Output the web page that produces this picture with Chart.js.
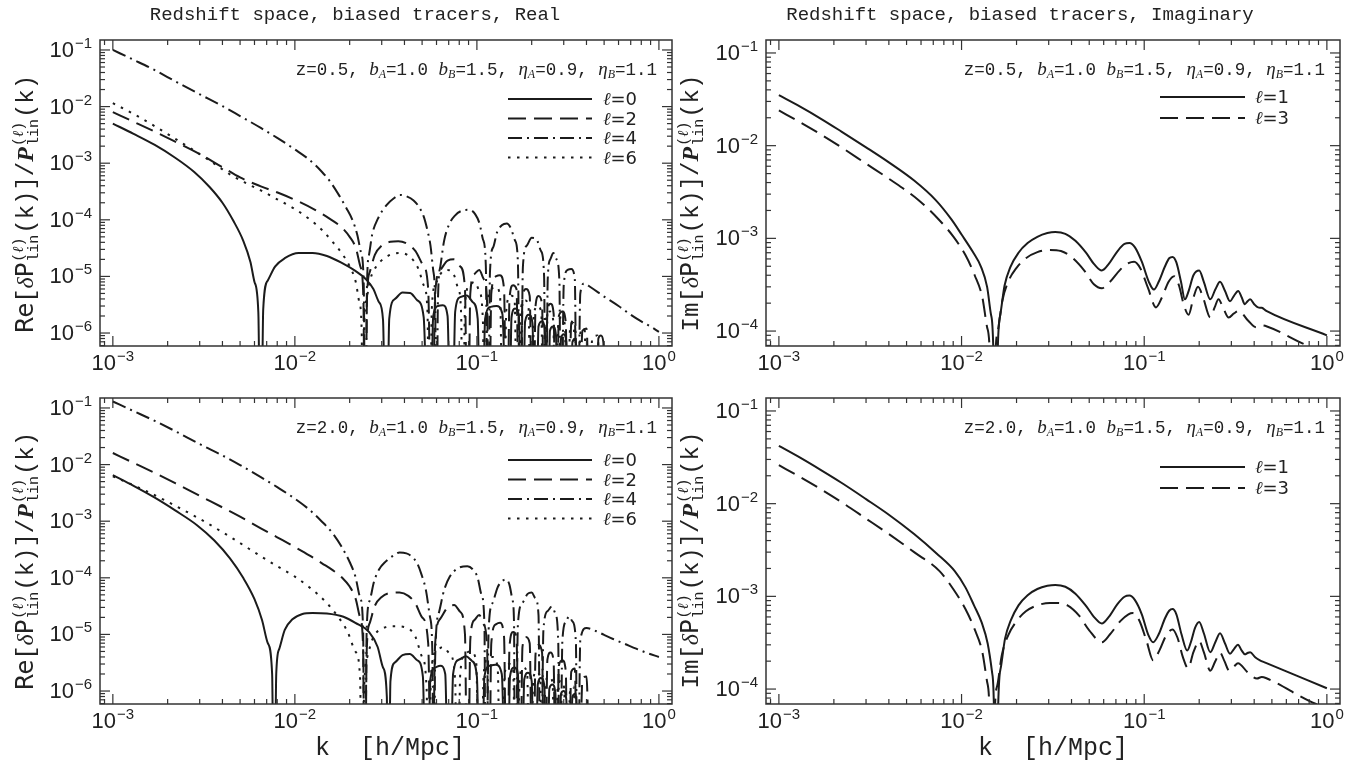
<!DOCTYPE html>
<html><head><meta charset="utf-8">
<script src="https://cdn.jsdelivr.net/npm/chart.js@4.4.1/dist/chart.umd.min.js"></script>
<style>
html,body{margin:0;padding:0;background:#fff}
body{width:1359px;height:764px;position:relative;overflow:hidden;color:#222}
canvas{position:absolute}
.t{position:absolute;white-space:nowrap;font-family:'Liberation Mono','DejaVu Sans Mono',monospace;color:#222}
.title{font-size:19px;transform:translate(-50%,-50%)}
.xl{font-size:25px;transform:translate(-50%,-50%)}
.yl{font-size:24px;transform:translate(-50%,-50%) rotate(-90deg)}
.ann{font-size:17.5px;transform:translate(-100%,-50%)}
.ann i{font-family:'Liberation Serif',serif;font-size:19px}
.ann sub{font-family:'Liberation Serif',serif;font-style:italic;font-size:12px;vertical-align:-3px}
.ss{display:inline-flex;flex-direction:column;vertical-align:middle;font-size:15px;line-height:15px;text-align:left;margin:0 1px}
.sans{font-family:'DejaVu Sans',sans-serif}
.ser{font-family:'Liberation Serif',serif}
.leg{font-family:'DejaVu Sans',sans-serif;font-size:18px;transform:translate(0,-50%)}
.leg i{font-family:'DejaVu Serif',serif}
.tk{font-family:'Liberation Sans','DejaVu Sans',sans-serif;font-size:22px;line-height:22px}
.tk .sp{font-size:15px;position:relative;top:-9px;margin-left:1px}
.tkx{transform:translate(-50%,0)}
.tky{transform:translate(-100%,-50%)}
</style></head><body>
<script>
// ---------- tick labels (decade exponents) ----------
const xTickExp = [-3, -2, -1, 0];
const yTickExpRe = [-6, -5, -4, -3, -2, -1];
const yTickExpIm = [-4, -3, -2, -1];

// ---------- data : [k (h/Mpc), value] ----------
// Real part, z = 0.5
const reZ05L0 = [[0.001,5.0e-3],[0.0013,3.3e-3],[0.0017,2.1e-3],[0.0022,1.25e-3],[0.0028,7.0e-4],[0.0034,3.8e-4],[0.004,2.0e-4],[0.0046,9.5e-5],[0.0052,4.3e-5],[0.0057,1.8e-5],[0.006,8e-6],[0.0063,2.3e-6],[0.0065,1e-9],[0.0067,2.6e-6],[0.0071,8.5e-6],[0.0078,1.5e-5],[0.0088,2.1e-5],[0.0105,2.6e-5],[0.0125,2.6e-5],[0.015,2.3e-5],[0.018,1.75e-5],[0.0215,1.25e-5],[0.0245,9e-6],[0.027,6e-6],[0.029,3.5e-6],[0.0305,1.7e-6],[0.0318,1e-9],[0.033,1.8e-6],[0.0355,4e-6],[0.039,5.2e-6],[0.043,5.1e-6],[0.047,3.8e-6],[0.051,1.9e-6],[0.055,1e-9],[0.0575,1.9e-6],[0.061,3e-6],[0.065,3.1e-6],[0.069,2e-6],[0.0725,1e-9],[0.076,2.4e-6],[0.081,4.3e-6],[0.088,4.6e-6],[0.095,3.5e-6],[0.101,1.8e-6],[0.1057,1e-9],[0.111,1.8e-6],[0.119,2.9e-6],[0.128,3e-6],[0.138,2.2e-6],[0.149,1e-9],[0.155,1.9e-6],[0.162,2.7e-6],[0.17,2.1e-6],[0.177,1e-9],[0.184,1.6e-6],[0.193,2.1e-6],[0.202,1.5e-6],[0.21,1e-9],[0.218,1.3e-6],[0.227,1.6e-6],[0.236,1.2e-6],[0.244,1e-9],[0.252,1.1e-6],[0.262,1.3e-6],[0.272,9e-7],[0.28,1e-9],[0.29,8e-7],[0.3,9.5e-7],[0.31,7e-7],[0.32,1e-9],[0.335,7e-7],[0.35,8e-7],[0.365,1e-9],[0.45,1e-9],[0.465,8e-7],[0.48,9e-7],[0.495,7e-7],[0.51,1e-9]];
const reZ05L2 = [[0.001,8e-3],[0.0013,5.4e-3],[0.0017,3.6e-3],[0.0022,2.4e-3],[0.003,1.45e-3],[0.004,8.5e-4],[0.005,5.6e-4],[0.0065,3.9e-4],[0.0081,3.0e-4],[0.0105,2.1e-4],[0.0129,1.5e-4],[0.0155,1.05e-4],[0.0182,7.2e-5],[0.02,5e-5],[0.0216,3.2e-5],[0.0229,1.5e-5],[0.0238,4e-6],[0.0243,1e-9],[0.0249,4e-6],[0.0258,1.2e-5],[0.0275,2.4e-5],[0.03,3.5e-5],[0.0335,4.1e-5],[0.037,4.2e-5],[0.0412,3.8e-5],[0.046,2.8e-5],[0.0505,1.6e-5],[0.054,6e-6],[0.0567,1e-9],[0.059,5e-6],[0.063,1.3e-5],[0.069,1.9e-5],[0.075,2e-5],[0.081,1.5e-5],[0.086,6e-6],[0.089,1e-9],[0.092,5e-6],[0.097,1.1e-5],[0.103,1.3e-5],[0.109,9e-6],[0.114,3e-6],[0.116,1e-9],[0.12,5e-6],[0.127,1e-5],[0.134,1.05e-5],[0.141,6e-6],[0.146,1e-9],[0.151,4e-6],[0.158,7e-6],[0.165,6e-6],[0.172,1e-9],[0.178,4e-6],[0.186,6e-6],[0.195,4.5e-6],[0.203,1e-9],[0.21,3e-6],[0.218,4.5e-6],[0.228,3.2e-6],[0.236,1e-9],[0.244,2.5e-6],[0.254,3.3e-6],[0.264,2.2e-6],[0.272,1e-9],[0.282,2e-6],[0.295,2.4e-6],[0.308,1.5e-6],[0.316,1e-9],[0.33,1.5e-6],[0.345,1.7e-6],[0.36,1e-9],[0.38,1.1e-6],[0.4,1.2e-6],[0.42,1e-9]];
const reZ05L4 = [[0.001,0.1],[0.0013,0.067],[0.0017,0.044],[0.0022,0.028],[0.003,0.0165],[0.004,0.0102],[0.005,6.8e-3],[0.0065,4.2e-3],[0.008,2.8e-3],[0.01,1.75e-3],[0.012,1.15e-3],[0.0141,7e-4],[0.0158,4.5e-4],[0.0175,2.7e-4],[0.0192,1.6e-4],[0.0207,1e-4],[0.022,5.5e-5],[0.0231,2.6e-5],[0.0239,7e-6],[0.0244,1e-9],[0.0249,7e-6],[0.0256,2.5e-5],[0.0266,5.5e-5],[0.0286,1.05e-4],[0.0318,1.8e-4],[0.035,2.4e-4],[0.0378,2.75e-4],[0.041,2.6e-4],[0.0449,2.2e-4],[0.048,1.7e-4],[0.051,1.15e-4],[0.0535,6.5e-5],[0.0556,3.5e-5],[0.0575,1.3e-5],[0.059,3e-6],[0.06,1e-9],[0.061,3e-6],[0.063,1.5e-5],[0.066,4.2e-5],[0.07,8e-5],[0.076,1.2e-4],[0.083,1.45e-4],[0.091,1.5e-4],[0.098,1.25e-4],[0.1035,8.5e-5],[0.108,4.5e-5],[0.112,1.5e-5],[0.115,1e-9],[0.118,1.2e-5],[0.123,3.3e-5],[0.129,6e-5],[0.137,8e-5],[0.146,8.6e-5],[0.154,7e-5],[0.162,4.3e-5],[0.168,1.8e-5],[0.173,1e-9],[0.179,1.5e-5],[0.188,3.5e-5],[0.2,4.8e-5],[0.212,4.6e-5],[0.225,2.8e-5],[0.234,1e-5],[0.239,1e-9],[0.245,9e-6],[0.253,2e-5],[0.263,2.6e-5],[0.274,2e-5],[0.284,8e-6],[0.29,1e-9],[0.3,7e-6],[0.315,1.3e-5],[0.33,1.35e-5],[0.345,9e-6],[0.356,1e-9],[0.37,5e-6],[0.39,7.5e-6],[0.42,6.5e-6],[0.5,4.4e-6],[0.6,3.0e-6],[0.7,2.1e-6],[0.8,1.6e-6],[0.9,1.3e-6],[1.0,1.05e-6]];
const reZ05L6 = [[0.001,1.15e-2],[0.0013,7.4e-3],[0.0017,4.5e-3],[0.0022,2.7e-3],[0.003,1.45e-3],[0.004,7.8e-4],[0.0046,5.8e-4],[0.0055,4.3e-4],[0.0065,3.3e-4],[0.008,2.3e-4],[0.01,1.55e-4],[0.012,1.03e-4],[0.0141,6.6e-5],[0.0162,4e-5],[0.0182,2.5e-5],[0.02,1.5e-5],[0.0216,8e-6],[0.0226,3.5e-6],[0.0233,1e-6],[0.0236,1e-9],[0.024,1e-6],[0.0248,4e-6],[0.026,9e-6],[0.028,1.5e-5],[0.031,2.1e-5],[0.0345,2.5e-5],[0.0378,2.6e-5],[0.0415,2.4e-5],[0.0449,1.9e-5],[0.048,1.3e-5],[0.051,7e-6],[0.0535,2.5e-6],[0.055,1e-9],[0.0565,2.5e-6],[0.059,7e-6],[0.063,1.1e-5],[0.068,1.3e-5],[0.074,1.15e-5],[0.079,6e-6],[0.082,2e-6],[0.0835,1e-9],[0.086,3e-6],[0.091,7e-6],[0.097,8e-6],[0.103,5.5e-6],[0.108,1.5e-6],[0.11,1e-9],[0.114,3e-6],[0.12,6e-6],[0.127,6.5e-6],[0.134,4.5e-6],[0.14,1e-9],[0.145,2.5e-6],[0.153,4.6e-6],[0.161,4e-6],[0.168,1e-9],[0.174,2.5e-6],[0.183,3.8e-6],[0.192,3e-6],[0.199,1e-9],[0.206,2.2e-6],[0.216,3e-6],[0.226,2.2e-6],[0.233,1e-9],[0.24,1.8e-6],[0.252,2.4e-6],[0.263,1.6e-6],[0.27,1e-9],[0.28,1.5e-6],[0.293,1.9e-6],[0.305,1.3e-6],[0.312,1e-9],[0.325,1.2e-6],[0.34,1.5e-6],[0.355,1e-9],[0.37,1e-6],[0.39,1.2e-6],[0.41,1e-9],[0.43,8e-7],[0.46,9e-7],[0.49,1e-9]];

// Real part, z = 2.0
const reZ2L0 = [[0.001,6.5e-3],[0.0013,4.2e-3],[0.0017,2.6e-3],[0.0022,1.55e-3],[0.0029,8.5e-4],[0.0036,4.6e-4],[0.0044,2.2e-4],[0.0052,1e-4],[0.006,4.2e-5],[0.0066,1.8e-5],[0.0071,7e-6],[0.0075,2e-6],[0.0077,1e-9],[0.0079,2e-6],[0.0082,5.5e-6],[0.0088,1.2e-5],[0.0097,1.85e-5],[0.011,2.3e-5],[0.0125,2.4e-5],[0.015,2.35e-5],[0.0185,2.05e-5],[0.0215,1.6e-5],[0.0256,1.1e-5],[0.0285,6e-6],[0.0305,2.6e-6],[0.032,8e-7],[0.0326,1e-9],[0.0335,1.5e-6],[0.0355,3.2e-6],[0.039,4.3e-6],[0.0428,4.5e-6],[0.047,3.5e-6],[0.0505,1.8e-6],[0.053,1e-9],[0.0555,1.6e-6],[0.059,2.6e-6],[0.063,2.8e-6],[0.067,2e-6],[0.0705,1e-9],[0.074,2e-6],[0.08,3.6e-6],[0.087,4.1e-6],[0.094,3.4e-6],[0.1,1.8e-6],[0.105,1e-9],[0.11,1.8e-6],[0.118,2.8e-6],[0.127,2.9e-6],[0.137,2e-6],[0.146,1e-9],[0.152,1.8e-6],[0.16,2.6e-6],[0.168,2e-6],[0.175,1e-9],[0.182,1.6e-6],[0.191,2.1e-6],[0.2,1.5e-6],[0.208,1e-9],[0.216,1.3e-6],[0.225,1.7e-6],[0.235,1.2e-6],[0.242,1e-9],[0.25,1.1e-6],[0.26,1.3e-6],[0.27,9e-7],[0.278,1e-9],[0.29,9e-7],[0.3,1e-6],[0.31,7e-7],[0.32,1e-9],[0.335,8e-7],[0.35,9e-7],[0.365,1e-9]];
const reZ2L2 = [[0.001,1.6e-2],[0.0013,1.07e-2],[0.0017,7.1e-3],[0.0022,4.7e-3],[0.003,2.8e-3],[0.004,1.75e-3],[0.005,1.2e-3],[0.0065,7.5e-4],[0.008,5.2e-4],[0.01,3.5e-4],[0.012,2.5e-4],[0.0141,1.8e-4],[0.0162,1.35e-4],[0.0182,1e-4],[0.02,7e-5],[0.0216,4.2e-5],[0.0228,2e-5],[0.0237,6e-6],[0.0242,1e-9],[0.0248,5e-6],[0.0258,1.6e-5],[0.0275,3.2e-5],[0.03,4.6e-5],[0.0335,5.4e-5],[0.0376,5.5e-5],[0.042,4.8e-5],[0.046,3.5e-5],[0.05,2e-5],[0.054,7e-6],[0.0565,1e-9],[0.059,7e-6],[0.063,1.9e-5],[0.069,3e-5],[0.075,3.3e-5],[0.081,2.5e-5],[0.086,1e-5],[0.089,1e-9],[0.092,8e-6],[0.097,1.8e-5],[0.103,2.2e-5],[0.109,1.5e-5],[0.114,5e-6],[0.116,1e-9],[0.12,7e-6],[0.127,1.5e-5],[0.134,1.6e-5],[0.141,9e-6],[0.146,1e-9],[0.151,6e-6],[0.158,1.1e-5],[0.165,9e-6],[0.172,1e-9],[0.178,6e-6],[0.186,9e-6],[0.195,7e-6],[0.203,1e-9],[0.21,4.5e-6],[0.218,6.5e-6],[0.228,4.8e-6],[0.236,1e-9],[0.244,3.6e-6],[0.254,4.8e-6],[0.264,3.3e-6],[0.272,1e-9],[0.282,2.8e-6],[0.295,3.5e-6],[0.308,2.2e-6],[0.316,1e-9],[0.33,2.2e-6],[0.345,2.5e-6],[0.36,1e-9],[0.38,1.6e-6],[0.4,1.8e-6],[0.42,1e-9]];
const reZ2L4 = [[0.001,0.13],[0.0013,0.088],[0.0017,0.059],[0.0022,0.039],[0.003,0.023],[0.004,0.0145],[0.005,9.8e-3],[0.0065,6.0e-3],[0.008,4e-3],[0.01,2.5e-3],[0.012,1.6e-3],[0.014,1e-3],[0.016,6.3e-4],[0.018,3.6e-4],[0.02,1.9e-4],[0.0215,1.05e-4],[0.0228,4.5e-5],[0.0237,1.3e-5],[0.0242,1e-9],[0.0248,1.2e-5],[0.0258,4e-5],[0.0272,8.5e-5],[0.029,1.4e-4],[0.0316,1.95e-4],[0.035,2.5e-4],[0.0376,2.8e-4],[0.041,2.7e-4],[0.0437,2.4e-4],[0.047,1.8e-4],[0.0496,1.15e-4],[0.0525,6e-5],[0.0553,2e-5],[0.057,4e-6],[0.0578,1e-9],[0.059,4e-6],[0.062,2.5e-5],[0.066,6e-5],[0.071,1.05e-4],[0.078,1.45e-4],[0.0887,1.6e-4],[0.096,1.35e-4],[0.101,1e-4],[0.106,5e-5],[0.11,1.5e-5],[0.112,1e-9],[0.116,1.2e-5],[0.122,3.6e-5],[0.13,6.8e-5],[0.138,8.8e-5],[0.145,9.3e-5],[0.151,7.5e-5],[0.157,4e-5],[0.16,1.5e-5],[0.162,1e-9],[0.168,1.5e-5],[0.178,3.6e-5],[0.19,5.2e-5],[0.2,5.5e-5],[0.209,4.4e-5],[0.218,2.2e-5],[0.224,1e-9],[0.232,1.2e-5],[0.245,2.6e-5],[0.258,3.1e-5],[0.27,2.3e-5],[0.28,7e-6],[0.285,1e-9],[0.295,8e-6],[0.31,1.7e-5],[0.32,2.1e-5],[0.335,1.7e-5],[0.35,7e-6],[0.357,1e-9],[0.37,8e-6],[0.4,1.3e-5],[0.45,1.15e-5],[0.5,9.8e-6],[0.56,8.3e-6],[0.65,6.8e-6],[0.75,5.6e-6],[0.86,4.7e-6],[1.0,4.0e-6]];
const reZ2L6 = [[0.001,6.2e-3],[0.0015,3.5e-3],[0.002,2.2e-3],[0.003,1.1e-3],[0.004,6.4e-4],[0.005,4.1e-4],[0.0065,2.4e-4],[0.008,1.6e-4],[0.01,1.05e-4],[0.012,6.8e-5],[0.0145,4e-5],[0.017,2.2e-5],[0.0195,1.1e-5],[0.0215,5e-6],[0.0228,1.8e-6],[0.0235,1e-9],[0.024,1e-6],[0.025,4e-6],[0.027,9e-6],[0.03,1.25e-5],[0.0345,1.4e-5],[0.041,1.32e-5],[0.046,9e-6],[0.05,4e-6],[0.053,1e-6],[0.054,1e-9],[0.056,2e-6],[0.06,5e-6],[0.065,6e-6],[0.071,4.5e-6],[0.076,1.5e-6],[0.078,1e-9],[0.081,2e-6],[0.086,4.5e-6],[0.092,5e-6],[0.099,3.5e-6],[0.104,1e-9],[0.109,2e-6],[0.115,3.8e-6],[0.122,4e-6],[0.13,2.6e-6],[0.136,1e-9],[0.142,2e-6],[0.15,3e-6],[0.158,2.5e-6],[0.165,1e-9],[0.172,1.8e-6],[0.18,2.6e-6],[0.189,2e-6],[0.196,1e-9],[0.204,1.6e-6],[0.213,2.2e-6],[0.223,1.6e-6],[0.23,1e-9],[0.238,1.4e-6],[0.25,1.8e-6],[0.261,1.3e-6],[0.268,1e-9],[0.278,1.2e-6],[0.29,1.5e-6],[0.302,1.1e-6],[0.31,1e-9],[0.325,1e-6],[0.34,1.2e-6],[0.355,1e-9]];

// Imaginary part, z = 0.5
const imZ05L1 = [[0.001,3.5e-2],[0.0013,2.65e-2],[0.0017,1.95e-2],[0.0022,1.42e-2],[0.003,9.6e-3],[0.004,6.6e-3],[0.0055,4.2e-3],[0.0072,2.6e-3],[0.0088,1.6e-3],[0.01,1.1e-3],[0.0115,7.2e-4],[0.0128,4.9e-4],[0.0138,3e-4],[0.0145,1.5e-4],[0.015,4e-5],[0.0153,1e-9],[0.0157,4e-5],[0.0163,1.5e-4],[0.0172,3.1e-4],[0.0185,4.9e-4],[0.0205,7e-4],[0.023,8.9e-4],[0.026,1.04e-3],[0.0295,1.14e-3],[0.0326,1.17e-3],[0.037,1.12e-3],[0.042,9.4e-4],[0.048,7e-4],[0.0535,5.2e-4],[0.0586,4.5e-4],[0.064,5.3e-4],[0.0715,7.3e-4],[0.078,8.7e-4],[0.083,8.9e-4],[0.089,8e-4],[0.097,5.6e-4],[0.106,3.4e-4],[0.113,2.8e-4],[0.12,3.4e-4],[0.13,5e-4],[0.137,6.1e-4],[0.143,6.3e-4],[0.15,5.5e-4],[0.159,3.4e-4],[0.167,2.2e-4],[0.175,2.7e-4],[0.186,4e-4],[0.2,4.5e-4],[0.212,3.4e-4],[0.23,2.2e-4],[0.245,2.8e-4],[0.26,3.4e-4],[0.277,2.7e-4],[0.295,2.1e-4],[0.31,2.4e-4],[0.327,2.7e-4],[0.342,2.3e-4],[0.355,1.95e-4],[0.368,2.1e-4],[0.38,2.2e-4],[0.4,1.95e-4],[0.42,1.8e-4],[0.44,1.78e-4],[0.466,1.65e-4],[1.0,9e-5]];
const imZ05L3 = [[0.001,2.4e-2],[0.0013,1.8e-2],[0.0017,1.32e-2],[0.0022,9.6e-3],[0.003,6.4e-3],[0.004,4.4e-3],[0.0058,2.6e-3],[0.0075,1.6e-3],[0.009,1.05e-3],[0.0105,6.6e-4],[0.0118,4e-4],[0.013,2.3e-4],[0.0138,1.1e-4],[0.0144,3e-5],[0.0148,1e-9],[0.0152,3e-5],[0.0158,1e-4],[0.0167,2.1e-4],[0.018,3.4e-4],[0.02,4.8e-4],[0.0225,6.1e-4],[0.026,7.1e-4],[0.0305,7.5e-4],[0.035,7.3e-4],[0.04,6.3e-4],[0.047,4.5e-4],[0.053,3.2e-4],[0.0586,2.9e-4],[0.065,3.4e-4],[0.074,4.6e-4],[0.082,5.4e-4],[0.088,5.6e-4],[0.095,4.8e-4],[0.105,2.9e-4],[0.116,1.8e-4],[0.125,2.3e-4],[0.136,3.4e-4],[0.146,3.9e-4],[0.155,3.1e-4],[0.165,1.9e-4],[0.175,1.5e-4],[0.186,2.3e-4],[0.197,3e-4],[0.21,2.3e-4],[0.23,1.4e-4],[0.243,1.8e-4],[0.255,2.2e-4],[0.27,1.8e-4],[0.29,1.4e-4],[0.31,1.55e-4],[0.33,1.65e-4],[0.37,1.3e-4],[0.41,1.1e-4],[0.44,1.15e-4],[0.47,1.12e-4],[0.78,7e-5],[1.0,6e-5]];
// Imaginary part, z = 2.0
const imZ2L1 = [[0.001,4.2e-2],[0.0013,3.15e-2],[0.0017,2.3e-2],[0.0022,1.68e-2],[0.003,1.12e-2],[0.004,7.6e-3],[0.0055,4.7e-3],[0.0073,2.9e-3],[0.0092,1.86e-3],[0.0105,1.25e-3],[0.0117,8e-4],[0.0129,5.2e-4],[0.0139,3.1e-4],[0.0147,1.5e-4],[0.0151,4e-5],[0.0154,1e-9],[0.0158,4.5e-5],[0.0164,1.7e-4],[0.0173,3.5e-4],[0.0186,5.5e-4],[0.0205,8e-4],[0.023,1.03e-3],[0.026,1.2e-3],[0.0295,1.3e-3],[0.0326,1.33e-3],[0.037,1.27e-3],[0.042,1.07e-3],[0.048,7.9e-4],[0.0535,5.9e-4],[0.0586,5.1e-4],[0.064,6e-4],[0.0715,8.3e-4],[0.078,9.9e-4],[0.083,1.02e-3],[0.089,9.1e-4],[0.097,6.4e-4],[0.105,3.9e-4],[0.112,3.2e-4],[0.12,3.9e-4],[0.13,5.8e-4],[0.137,7e-4],[0.143,7.3e-4],[0.15,6.4e-4],[0.16,3.9e-4],[0.172,2.6e-4],[0.18,3.2e-4],[0.19,4.6e-4],[0.2,5.3e-4],[0.212,4e-4],[0.23,2.5e-4],[0.245,3.2e-4],[0.26,4e-4],[0.277,3.1e-4],[0.295,2.4e-4],[0.31,2.7e-4],[0.326,3e-4],[0.342,2.6e-4],[0.356,2.37e-4],[0.368,2.45e-4],[0.38,2.5e-4],[0.405,2.2e-4],[0.43,2.04e-4],[0.46,1.93e-4],[1.0,1.02e-4]];
const imZ2L3 = [[0.001,2.6e-2],[0.0013,1.95e-2],[0.0017,1.43e-2],[0.0022,1.04e-2],[0.003,6.9e-3],[0.004,4.7e-3],[0.0055,3e-3],[0.0076,1.86e-3],[0.009,1.2e-3],[0.0105,7.3e-4],[0.0118,4.4e-4],[0.013,2.5e-4],[0.0138,1.2e-4],[0.0143,3.5e-5],[0.0147,1e-9],[0.0151,3.5e-5],[0.0157,1.1e-4],[0.0166,2.3e-4],[0.018,3.8e-4],[0.02,5.4e-4],[0.0225,6.9e-4],[0.026,8e-4],[0.0305,8.5e-4],[0.0334,8.5e-4],[0.038,8e-4],[0.044,6.2e-4],[0.05,4.3e-4],[0.0586,3.2e-4],[0.065,3.9e-4],[0.074,5.4e-4],[0.082,6.4e-4],[0.0867,6.6e-4],[0.094,5.5e-4],[0.103,3.3e-4],[0.112,2.04e-4],[0.121,2.6e-4],[0.132,3.8e-4],[0.143,4.4e-4],[0.152,3.6e-4],[0.163,2.2e-4],[0.174,1.68e-4],[0.186,2.5e-4],[0.2,3.3e-4],[0.212,2.5e-4],[0.23,1.58e-4],[0.245,2e-4],[0.26,2.47e-4],[0.275,2e-4],[0.292,1.58e-4],[0.31,1.75e-4],[0.326,1.9e-4],[0.37,1.5e-4],[0.414,1.3e-4],[0.44,1.35e-4],[0.47,1.3e-4],[0.794,7.5e-5],[1.0,6.2e-5]];

// ---------- drawing ----------
const DASH = {solid: [], dashed: [18, 8], dashdot: [14, 5, 2, 5], dotted: [2.5, 6.5]};
const INK = '#1b1b1b';

function framePlugin(legend) {
  return {
    id: 'frame',
    afterDatasetsDraw(chart) {
      const {ctx, chartArea: a, scales: {x, y}} = chart;
      ctx.save();
      ctx.strokeStyle = '#333'; ctx.lineWidth = 1.2; ctx.setLineDash([]);
      const seg = (x1, y1, x2, y2) => { ctx.beginPath(); ctx.moveTo(x1, y1); ctx.lineTo(x2, y2); ctx.stroke(); };
      const each = (scale, fn) => {
        const lo = Math.floor(Math.log10(scale.min)), hi = Math.ceil(Math.log10(scale.max));
        for (let e = lo; e <= hi; e++) for (let m = 1; m <= 9; m++) {
          const v = m * Math.pow(10, e);
          if (v < scale.min || v > scale.max) continue;
          fn(scale.getPixelForValue(v), m === 1);
        }
      };
      each(x, (p, maj) => { const L = maj ? 10 : 5; seg(p, a.bottom, p, a.bottom - L); seg(p, a.top, p, a.top + L); });
      each(y, (p, maj) => { const L = maj ? 10 : 5; seg(a.left, p, a.left + L, p); seg(a.right, p, a.right - L, p); });
      ctx.lineWidth = 1.5;
      ctx.strokeRect(a.left, a.top, a.right - a.left, a.bottom - a.top);
      ctx.strokeStyle = INK; ctx.lineWidth = 2;
      legend.items.forEach((st, i) => {
        const yy = a.top + legend.y0 + i * legend.dy;
        ctx.setLineDash(DASH[st]);
        seg(a.right - legend.x1, yy, a.right - legend.x2, yy);
      });
      ctx.restore();
    }
  };
}

function addText(cls, x, y, html) {
  const d = document.createElement('div');
  d.className = 't ' + cls; d.style.left = x + 'px'; d.style.top = y + 'px'; d.innerHTML = html;
  document.body.appendChild(d);
  return d;
}
const expLabel = e => '10<span class="sp">' + String(e).replace('-', '\u2212') + '</span>';

function makePanel(box, xr, yr, yExps, series, legend) {
  const padL = 80, padT = 15, padR = 25, padB = 44;
  const W = box.r - box.l + padL + padR, H = box.b - box.t + padT + padB;
  const cx = box.l - padL, cy = box.t - padT;
  const cv = document.createElement('canvas');
  cv.width = W; cv.height = H;
  cv.style.left = cx + 'px'; cv.style.top = cy + 'px';
  cv.style.width = W + 'px'; cv.style.height = H + 'px';
  document.body.appendChild(cv);
  const chart = new Chart(cv, {
    type: 'line',
    data: {datasets: series.map(s => ({data: s.data, label: s.label, borderColor: INK, borderWidth: 2, borderDash: DASH[s.style], borderCapStyle: 'butt', pointRadius: 0, fill: false, cubicInterpolationMode: 'monotone', clip: 0}))},
    options: {
      responsive: false, animation: false, events: [], devicePixelRatio: 1,
      layout: {padding: {left: 0, top: padT, right: padR, bottom: 0}},
      plugins: {legend: {display: false}, tooltip: {enabled: false}},
      scales: {
        x: {type: 'logarithmic', min: xr[0], max: xr[1], grid: {display: false, drawTicks: false}, border: {display: false},
            afterFit(s) { s.height = padB; },
            afterBuildTicks(s) { s.ticks = xTickExp.map(e => ({value: Math.pow(10, e)})); },
            ticks: {display: false}},
        y: {type: 'logarithmic', min: yr[0], max: yr[1], grid: {display: false, drawTicks: false}, border: {display: false},
            afterFit(s) { s.width = padL; },
            afterBuildTicks(s) { s.ticks = yExps.map(e => ({value: Math.pow(10, e)})); },
            ticks: {display: false}}
      }
    },
    plugins: [framePlugin(legend)]
  });
  xTickExp.forEach(e => addText('tk tkx', cx + chart.scales.x.getPixelForValue(Math.pow(10, e)), cy + chart.chartArea.bottom + 6, expLabel(e)));
  yExps.forEach(e => addText('tk tky', cx + chart.chartArea.left - 8, cy + chart.scales.y.getPixelForValue(Math.pow(10, e)) + 1, expLabel(e)));
  return chart;
}

const boxTL = {l: 100, r: 672, t: 40, b: 346};
const boxTR = {l: 766, r: 1340, t: 40, b: 346};
const boxBL = {l: 100, r: 672, t: 398, b: 704};
const boxBR = {l: 766, r: 1340, t: 398, b: 704};
const xRange = [8.5e-4, 1.18];
const yRangeRe = [5.9e-7, 0.15];
const yRangeIm = [6.9e-5, 0.138];

const RE_STYLES = ['solid', 'dashed', 'dashdot', 'dotted'];
const IM_STYLES = ['solid', 'dashed'];

makePanel(boxTL, xRange, yRangeRe, yTickExpRe, [
  {label: 'ℓ=0', style: 'solid', data: reZ05L0}, {label: 'ℓ=2', style: 'dashed', data: reZ05L2},
  {label: 'ℓ=4', style: 'dashdot', data: reZ05L4}, {label: 'ℓ=6', style: 'dotted', data: reZ05L6}],
  {x1: 164, x2: 80, y0: 59, dy: 19.5, items: RE_STYLES});
makePanel(boxTR, xRange, yRangeIm, yTickExpIm, [
  {label: 'ℓ=1', style: 'solid', data: imZ05L1}, {label: 'ℓ=3', style: 'dashed', data: imZ05L3}],
  {x1: 180, x2: 95, y0: 57, dy: 21, items: IM_STYLES});
makePanel(boxBL, xRange, yRangeRe, yTickExpRe, [
  {label: 'ℓ=0', style: 'solid', data: reZ2L0}, {label: 'ℓ=2', style: 'dashed', data: reZ2L2},
  {label: 'ℓ=4', style: 'dashdot', data: reZ2L4}, {label: 'ℓ=6', style: 'dotted', data: reZ2L6}],
  {x1: 164, x2: 80, y0: 62, dy: 19.5, items: RE_STYLES});
makePanel(boxBR, xRange, yRangeIm, yTickExpIm, [
  {label: 'ℓ=1', style: 'solid', data: imZ2L1}, {label: 'ℓ=3', style: 'dashed', data: imZ2L3}],
  {x1: 180, x2: 95, y0: 69, dy: 21, items: IM_STYLES});

// ---------- text ----------
addText('title', 355, 15, 'Redshift space, biased tracers, Real');
addText('title', 1020, 15, 'Redshift space, biased tracers, Imaginary');
addText('xl', 390, 748, 'k&nbsp;&nbsp;[h/Mpc]');
addText('xl', 1053, 748, 'k&nbsp;&nbsp;[h/Mpc]');
const stack = '<span class="ss"><span>(<i class="ser">ℓ</i>)</span><span>lin</span></span>';
const ylabRe = '<span class="sans">Re</span>[<i class="ser">δ</i><span class="sans">P</span>' + stack + '(k)]/<b><i class="ser">P</i></b>' + stack + '(k)';
const ylabIm = 'Im[<i class="ser">δ</i><span class="sans">P</span>' + stack + '(k)]/<b><i class="ser">P</i></b>' + stack + '(k)';
addText('yl', 27, 204, ylabRe);
addText('yl', 27, 561, ylabRe);
addText('yl', 692, 203, ylabIm);
addText('yl', 692, 560, ylabIm);
const ann = z => 'z=' + z + ', <i>b</i><sub>A</sub>=1.0 <i>b</i><sub>B</sub>=1.5, <i>η</i><sub>A</sub>=0.9, <i>η</i><sub>B</sub>=1.1';
addText('ann', 657, 70, ann('0.5'));
addText('ann', 1325, 70, ann('0.5'));
addText('ann', 657, 428, ann('2.0'));
addText('ann', 1325, 428, ann('2.0'));
[['0', 0], ['2', 1], ['4', 2], ['6', 3]].forEach(([l, i]) => {
  addText('leg', boxTL.r - 69, boxTL.t + 59 + i * 19.5, '<i>ℓ</i>=' + l);
  addText('leg', boxBL.r - 69, boxBL.t + 62 + i * 19.5, '<i>ℓ</i>=' + l);
});
[['1', 0], ['3', 1]].forEach(([l, i]) => {
  addText('leg', boxTR.r - 85, boxTR.t + 57 + i * 21, '<i>ℓ</i>=' + l);
  addText('leg', boxBR.r - 85, boxBR.t + 69 + i * 21, '<i>ℓ</i>=' + l);
});
</script>
</body></html>
